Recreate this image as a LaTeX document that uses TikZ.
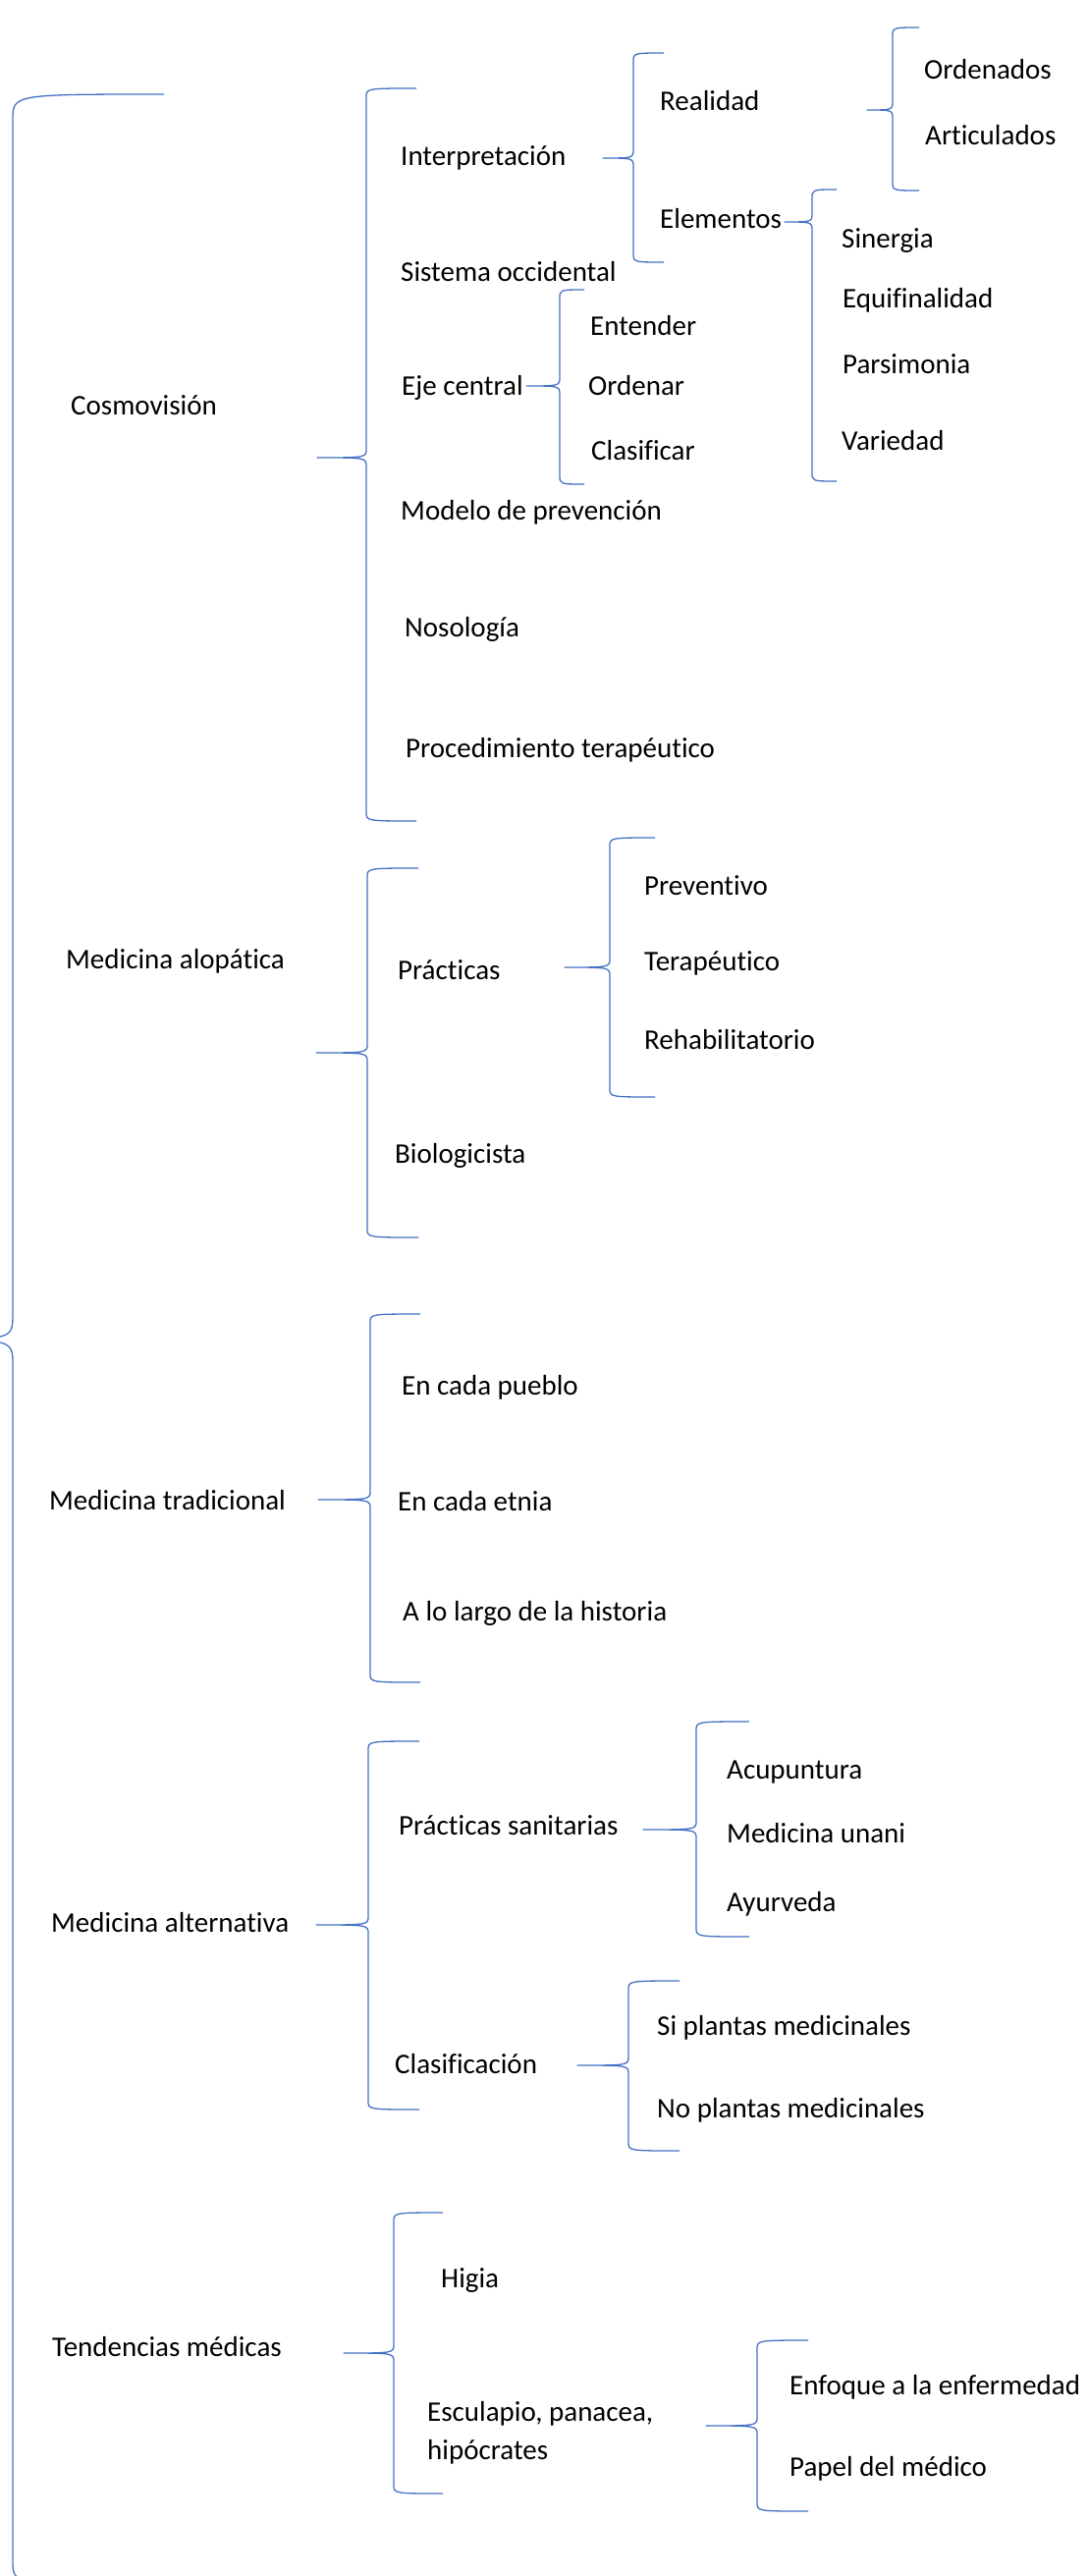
\documentclass[tikz,border=0pt]{standalone}
\usepackage{fontspec}
\setmainfont{Carlito}[Ligatures=NoCommon]
\definecolor{azulllave}{RGB}{68,114,196}
% #1 vertical x, #2 top, #3 bottom, #4 tip x, #5 tip y, #6 arm end x
\newcommand{\llave}[6]{%
\draw[llave] (#6,#2) .. controls (#1,#2) .. (#1,#2+9) -- (#1,#5-9) .. controls (#1,#5) .. (#4,#5)
  .. controls (#1,#5) .. (#1,#5+9) -- (#1,#3-9) .. controls (#1,#3) .. (#6,#3);}

\begin{document}
\begin{tikzpicture}[x=1pt,y=-1pt,
  llave/.style={azulllave, line width=1.3pt, line join=round},
  txt/.style={anchor=west, inner sep=0pt, font=\fontsize{29}{39}\selectfont, text height=18.6pt, text depth=0pt},
  txt2/.style={anchor=west, inner sep=0pt, font=\fontsize{29}{39}\selectfont, align=left}]
\clip (0,0) rectangle (1108,2623);
\fill[white] (0,0) rectangle (1108,2623);

% big brace on the left
\draw[llave] (167,96) .. controls (13,96) .. (13,122) -- (13,1338) .. controls (13,1364) .. (-80,1364)
  .. controls (13,1364) .. (13,1390) -- (13,2608) .. controls (13,2632) .. (170,2632);

% first level
\node[txt] (cosmo)  at (72,413)  {Cosmovisión};
\node[txt] (alopat) at (67,977)  {Medicina alopática};
\node[txt] (tradic) at (50,1528) {Medicina tradicional};
\node[txt] (altern) at (52,1958) {Medicina alternativa};
\node[txt] (tenden) at (53,2390) {Tendencias médicas};

% Cosmovision
\llave{373}{90}{836}{323}{466}{424}
\node[txt] (interp) at (408,159) {Interpretación};
\node[txt] (sistoc) at (408,277) {Sistema occidental};
\node[txt] (eje)    at (409,393) {Eje central};
\node[txt] (modelo) at (408,520) {Modelo de prevención};
\node[txt] (noso)   at (412,639) {Nosología};
\node[txt] (proced) at (413,762) {Procedimiento terapéutico};

\llave{645}{54}{267}{614}{161}{676}
\node[txt] (realid) at (672,103) {Realidad};
\node[txt] (elemen) at (672,223) {Elementos};

\llave{909}{28}{194}{883}{112}{936}
\node[txt] (orden)  at (941,71)  {Ordenados};
\node[txt] (artic)  at (942,138) {Articulados};

\llave{827}{193}{490}{799}{226}{852}
\node[txt] (siner)  at (857,243) {Sinergia};
\node[txt] (equif)  at (858,304) {Equifinalidad};
\node[txt] (parsi)  at (858,371) {Parsimonia};
\node[txt] (varie)  at (857,449) {Variedad};

\llave{570}{295}{493}{536}{393}{595}
\node[txt] (entend) at (601,332) {Entender};
\node[txt] (ordnar) at (599,393) {Ordenar};
\node[txt] (clasif) at (602,459) {Clasificar};

% Medicina alopatica
\llave{374}{884}{1260}{322}{1072}{426}
\node[txt] (practi) at (405,988)  {Prácticas};
\node[txt] (biolog) at (402,1175) {Biologicista};

\llave{621}{853}{1117}{575}{985}{667}
\node[txt] (prev)   at (656,902)  {Preventivo};
\node[txt] (terap)  at (656,979)  {Terapéutico};
\node[txt] (rehab)  at (656,1059) {Rehabilitatorio};

% Medicina tradicional
\llave{377}{1338}{1713}{324}{1527}{428}
\node[txt] (pueblo) at (409,1411) {En cada pueblo};
\node[txt] (etnia)  at (405,1529) {En cada etnia};
\node[txt] (histor) at (410,1641) {A lo largo de la historia};

% Medicina alternativa
\llave{375}{1773}{2148}{322}{1960}{427}
\node[txt] (pracsan) at (406,1859) {Prácticas sanitarias};
\node[txt] (clasific) at (402,2102) {Clasificación};

\llave{709}{1753}{1972}{655}{1863}{763}
\node[txt] (acupun) at (740,1802) {Acupuntura};
\node[txt] (unani)  at (740,1867) {Medicina unani};
\node[txt] (ayurv)  at (740,1937) {Ayurveda};

\llave{640}{2017}{2190}{588}{2103}{692}
\node[txt] (siplan) at (669,2063) {Si plantas medicinales};
\node[txt] (noplan) at (669,2147) {No plantas medicinales};

% Tendencias medicas
\llave{401}{2253}{2539}{350}{2396}{451}
\node[txt]  (higia)  at (449,2320) {Higia};
\node[txt2] (escul)  at (435,2477) {Esculapio, panacea,\\hipócrates};

\llave{771}{2383}{2557}{719}{2470}{823}
\node[txt] (enfoq)  at (804,2429) {Enfoque a la enfermedad};
\node[txt] (papel)  at (804,2512) {Papel del médico};
\end{tikzpicture}
\end{document}
